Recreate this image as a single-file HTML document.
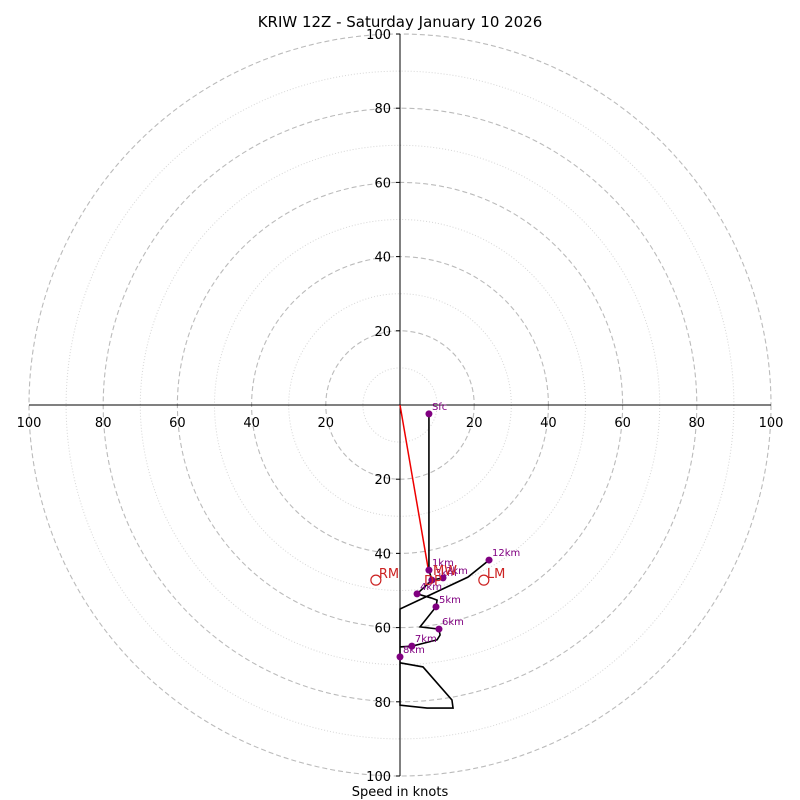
<!DOCTYPE html>
<html><head><meta charset="utf-8"><style>
body{margin:0;background:#fff}
svg{display:block;font-family:"DejaVu Sans","Liberation Sans",sans-serif}
</style></head><body>
<svg id="chart" width="800" height="800" viewBox="0 0 800 800">
<text x="400" y="27" text-anchor="middle" font-size="15">KRIW 12Z - Saturday January 10 2026</text>
<text x="400" y="796" text-anchor="middle" font-size="13">Speed in knots</text>
</svg>
<script>
const ringLabels = [20, 40, 60, 80, 100];
const minorRings = [10, 30, 50, 70, 90];
const pathU = [7.8, 7.8, 8.6, 11.6, 8.6, 4.6, 8.4, 10.0, 9.7, 5.4, 10.5, 10.8, 10.0, 3.2, 0, 0, 0, 6.2, 14.0, 14.3, 7.3, 0, 0, 18.3, 24.0];
const pathV = [-2.4, -44.5, -47.2, -46.6, -47.2, -50.9, -52.0, -52.6, -54.4, -59.8, -60.4, -62.0, -63.3, -65.0, -65.2, -67.9, -69.5, -70.6, -79.5, -81.7, -81.7, -80.9, -55.0, -46.4, -41.8];
const markerNames = ["Sfc", "1km", "2km", "3km", "4km", "5km", "6km", "7km", "8km", "12km"];
const markerU = [7.8, 7.8, 11.6, 8.6, 4.6, 9.7, 10.5, 3.2, 0, 24.0];
const markerV = [-2.4, -44.5, -46.6, -47.2, -50.9, -54.4, -60.4, -65.0, -67.9, -41.8];
const stormNames = ["RM", "LM"];
const stormU = [-6.5, 22.6];
const stormV = [-47.2, -47.2];
const meanU = [7.8];
const meanV = [-45.3];

const CX = 400, CY = 405, S = 3.71;
const sx = u => CX + u * S;
const sy = v => CY - v * S;
const NS = "http://www.w3.org/2000/svg";
const svg = document.getElementById('chart');
function mk(tag, attrs, parent) {
  const e = document.createElementNS(NS, tag);
  for (const k in attrs) e.setAttribute(k, attrs[k]);
  (parent || svg).appendChild(e);
  return e;
}
minorRings.forEach(r => {
  const c = mk('circle', {cx: CX, cy: CY, r: r * S, fill: 'none', stroke: '#d6d6d6', 'stroke-width': 1, 'stroke-dasharray': '1,2'});
  
  
});
ringLabels.forEach(r => {
  const c = mk('circle', {cx: CX, cy: CY, r: r * S, fill: 'none', stroke: '#bbb', 'stroke-width': 1.1, 'stroke-dasharray': '5,3'});
  
  
});
const ax1 = mk('line', {x1: sx(-100), y1: CY, x2: sx(100), y2: CY, stroke: '#000', 'stroke-width': 1});


const ax2 = mk('line', {x1: CX, y1: sy(100), x2: CX, y2: sy(-100), stroke: '#000', 'stroke-width': 1});


ringLabels.forEach(r => {
  [-1, 1].forEach(sg => {
    const t = mk('text', {x: sx(sg * r), y: CY + 22, 'text-anchor': 'middle', 'font-size': 13});
    t.textContent = r;
    
    
    const tk = mk('line', {x1: CX - 4, y1: sy(sg * r), x2: CX, y2: sy(sg * r), stroke: '#000'});
    
    
    const t2 = mk('text', {x: CX - 9, y: sy(sg * r) + 5, 'text-anchor': 'end', 'font-size': 13});
    t2.textContent = r;
    
    
  });
});
const red = mk('line', {x1: CX, y1: CY, x2: sx(meanU[0]), y2: sy(meanV[0]), stroke: '#e00', 'stroke-width': 1.5});


const pts = pathU.map((u, i) => sx(u) + ',' + sy(pathV[i])).join(' ');
const pl = mk('polyline', {points: pts, fill: 'none', stroke: '#000', 'stroke-width': 1.6});


markerNames.forEach((n, i) => {
  const c = mk('circle', {cx: sx(markerU[i]), cy: sy(markerV[i]), r: 3.5, fill: 'purple'});
  
  
  const t = mk('text', {x: sx(markerU[i]) + 3, y: sy(markerV[i]) - 4, 'font-size': 10, fill: 'purple'});
  t.textContent = n;
  
  
});
stormNames.forEach((n, i) => {
  const c = mk('circle', {cx: sx(stormU[i]), cy: sy(stormV[i]), r: 5, fill: 'none', stroke: '#c22', 'stroke-width': 1.2});
  
  
  const t = mk('text', {x: sx(stormU[i]) + 3, y: sy(stormV[i]) - 2, 'font-size': 13, fill: '#c22'});
  t.textContent = n;
  
  
});
const mw = mk('text', {x: sx(meanU[0]) + 4, y: sy(meanV[0]) + 2, 'font-size': 13, fill: '#c22'});
mw.textContent = 'MW';


const dp = mk('text', {x: sx(meanU[0]) - 5, y: sy(meanV[0]) + 12, 'font-size': 13, fill: '#c22'});
dp.textContent = 'DP';


</script>
</body></html>
